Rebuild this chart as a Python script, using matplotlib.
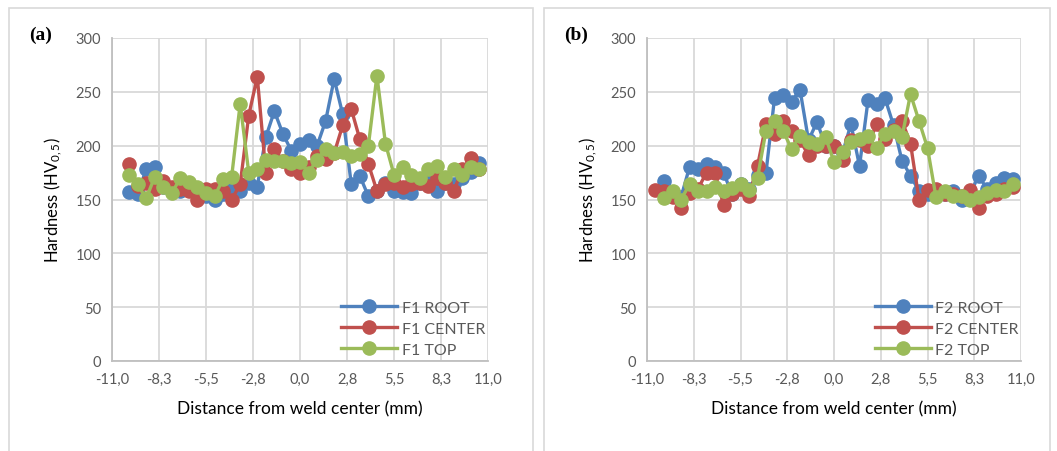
import numpy as np
import matplotlib
matplotlib.use("Agg")
import matplotlib.pyplot as plt
from matplotlib.patches import Rectangle

plt.rcParams['font.family'] = ['Lato', 'DejaVu Sans']
plt.rcParams['mathtext.fontset'] = 'custom'
plt.rcParams['mathtext.rm'] = 'Lato'
plt.rcParams['mathtext.it'] = 'Lato'

# ---------------- data ----------------
x_a = np.arange(-10.0, 10.51, 0.5)
f1_root = [157, 155, 178, 180, 162, 160, 158, 162, 158, 153, 150, 155, 160, 158, 165, 162,
           208, 232, 211, 195, 202, 205, 200, 223, 262, 229, 164, 172, 153, 158, 165, 158,
           157, 156, 165, 166, 158, 165, 164, 170, 176, 184]
f1_center = [183, 163, 165, 160, 167, 162, 160, 158, 150, 160, 160, 158, 150, 164, 228, 264,
             175, 197, 186, 178, 175, 180, 190, 188, 193, 219, 234, 206, 183, 158, 164, 165,
             162, 164, 165, 163, 170, 165, 158, 178, 189, 178]
f1_top = [173, 164, 151, 171, 162, 156, 170, 166, 162, 156, 153, 169, 171, 239, 175, 178,
          187, 186, 186, 184, 185, 175, 187, 197, 193, 194, 190, 192, 200, 265, 202, 173,
          180, 173, 170, 178, 181, 171, 178, 173, 180, 178]

x_b_center = np.arange(-10.5, 10.51, 0.5)
x_b = np.arange(-10.0, 10.51, 0.5)
f2_root = [167, 155, 152, 180, 178, 183, 180, 175, 155, 164, 160, 173, 175, 244, 247, 241,
           252, 205, 222, 200, 200, 193, 220, 181, 242, 239, 244, 219, 186, 172, 158, 155,
           157, 155, 158, 150, 155, 172, 160, 165, 170, 169]
f2_center = [159, 158, 152, 142, 156, 160, 175, 175, 145, 155, 160, 153, 181, 220, 211, 223,
             214, 205, 191, 200, 200, 200, 187, 205, 205, 200, 220, 206, 215, 223, 202, 150,
             159, 160, 155, 155, 153, 159, 142, 153, 155, 160, 162]
f2_top = [151, 158, 150, 164, 158, 158, 162, 158, 161, 164, 159, 170, 214, 223, 214, 197,
          209, 203, 202, 208, 185, 194, 203, 206, 209, 198, 211, 214, 208, 248, 223, 198,
          152, 158, 153, 153, 150, 152, 156, 159, 158, 164]

x_ticks = np.linspace(-11, 11, 9)
x_tick_labels = ['-11,0', '-8,3', '-5,5', '-2,8', '0,0', '2,8', '5,5', '8,3', '11,0']
y_ticks = [0, 50, 100, 150, 200, 250, 300]

# ---------------- style ----------------
BLUE, RED, GREEN = '#4f81bd', '#c0504d', '#9bbb59'
GRID = '#d9d9d9'
TXT = '#595959'

W, H = 1057, 452
fig = plt.figure(figsize=(W / 100, H / 100), dpi=100)

# panel borders
for (x0, x1) in [(9, 533), (544, 1050)]:
    fig.patches.append(Rectangle((x0 / W, -0.01), (x1 - x0) / W, (H - 9) / H + 0.01,
                                 transform=fig.transFigure, fill=False,
                                 edgecolor='#d9d9d9', linewidth=1.2))


def make_panel(left_px, width_px, series, letter, letter_x):
    ax = fig.add_axes([left_px / W, (H - 362) / H, width_px / W, 323 / H])
    ax.set_xlim(-11, 11)
    ax.set_ylim(0, 300)
    ax.set_xticks(x_ticks)
    ax.set_xticklabels(x_tick_labels)
    ax.set_yticks(y_ticks)
    ax.grid(True, color=GRID, linewidth=1.3)
    ax.set_axisbelow(True)
    for s in ['top', 'right']:
        ax.spines[s].set_visible(False)
    for s in ['left', 'bottom']:
        ax.spines[s].set_color('#bfbfbf')
        ax.spines[s].set_linewidth(1.3)
    ax.tick_params(length=0, labelsize=10.5, colors=TXT, pad=8)
    for (xs, ys, c, lab) in series:
        ax.plot(xs, ys, color=c, linewidth=2.4, marker='o', markersize=9.5,
                label=lab, zorder=3)
    ax.set_xlabel('Distance from weld center (mm)', fontsize=12.5, color='black', labelpad=10)
    ax.set_ylabel('Hardness (HV$_{0,5}$)', fontsize=12, color='black', labelpad=8)
    leg = ax.legend(loc='upper left', bbox_to_anchor=(0.609, 0.187), frameon=False,
                    fontsize=11.5, handlelength=3.5, handletextpad=0.3,
                    labelspacing=0.42, borderpad=0, borderaxespad=0)
    for t in leg.get_texts():
        t.set_color(TXT)
    fig.text(letter_x / W, (H - 35) / H, letter, fontsize=14, fontweight='bold',
             family='Liberation Serif', va='center', ha='left')
    return ax


make_panel(112, 376, [(x_a, f1_root, BLUE, 'F1 ROOT'),
                      (x_a, f1_center, RED, 'F1 CENTER'),
                      (x_a, f1_top, GREEN, 'F1 TOP')], '(a)', 29)
make_panel(647, 374, [(x_b, f2_root, BLUE, 'F2 ROOT'),
                      (x_b_center, f2_center, RED, 'F2 CENTER'),
                      (x_b, f2_top, GREEN, 'F2 TOP')], '(b)', 564)

fig.savefig('out.png', dpi=100)
